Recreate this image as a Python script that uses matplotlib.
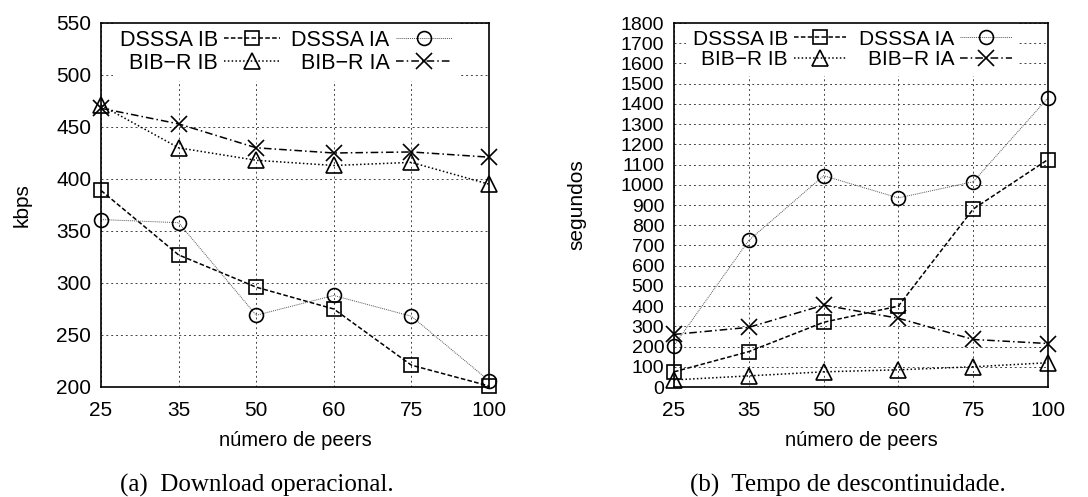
import matplotlib
matplotlib.use("Agg")
import matplotlib.pyplot as plt

peers = ["25", "35", "50", "60", "75", "100"]

# (a) Download operacional (kbps)
dl_dsssa_ib = [389, 327, 296, 275, 221, 201]
dl_dsssa_ia = [361, 358, 269, 288, 268, 206]
dl_bibr_ib = [471, 430, 418, 413, 416, 395]
dl_bibr_ia = [468, 453, 430, 425, 426, 421]

# (b) Tempo de descontinuidade (segundos)
td_dsssa_ib = [75, 175, 320, 400, 880, 1125]
td_dsssa_ia = [205, 725, 1045, 935, 1015, 1430]
td_bibr_ib = [35, 55, 75, 85, 100, 120]
td_bibr_ia = [260, 295, 405, 340, 235, 215]

labels = ["DSSSA IB", "DSSSA IA", "BIB\u2212R IB", "BIB\u2212R IA"]

plt.rcParams['font.family'] = ['Liberation Sans', 'DejaVu Sans']

W, H = 1088, 497
fig = plt.figure(figsize=(W / 100, H / 100), dpi=100)
ax1 = fig.add_axes([101 / W, 1 - 387 / H, 388 / W, 364 / H])
ax2 = fig.add_axes([674 / W, 1 - 387 / H, 374 / W, 364 / H])

styles = [
    dict(ls=(0, (3, 1.5)), marker='s', ms=10, lw=1.1, color='black'),
    dict(ls=(0, (1, 1)), marker='o', ms=10, lw=0.7, color='#555555'),
    dict(ls=(0, (1, 1.5)), marker='^', ms=12, lw=1.1, color='black'),
    dict(ls=(0, (5, 2, 1, 2)), marker='x', ms=12, lw=1.1, color='black'),
]


def draw(ax, series, ylim, yticks, ylabel, caption, cap_x, tick_fs,
         ylab_x, handlelength, leg_fs, colsp):
    x = list(range(len(peers)))
    handles = []
    for s, st, lab in zip(series, styles, labels):
        h, = ax.plot(x, s, linestyle=st['ls'], lw=st['lw'], color=st['color'],
                     marker=st['marker'], markersize=st['ms'],
                     markerfacecolor='none', markeredgecolor='black',
                     markeredgewidth=1.2, label=lab, clip_on=False, zorder=3)
        handles.append(h)
    ax.set_xlim(0, len(peers) - 1)
    ax.set_xticks(x)
    ax.set_xticklabels(peers, fontsize=15)
    ax.set_ylim(*ylim)
    ax.set_yticks(yticks)
    ax.set_yticklabels([str(v) for v in yticks], fontsize=tick_fs)
    ax.grid(True, color='#444444', ls=(0, (2, 3)), lw=0.7)
    ax.tick_params(axis='x', direction='in', length=0, pad=10)
    ax.tick_params(axis='y', direction='in', length=0, pad=7)
    for sp in ax.spines.values():
        sp.set_linewidth(1.2)
        sp.set_zorder(10)
    ax.set_xlabel("número de peers", fontsize=14.5)
    ax.xaxis.set_label_coords(0.5, -(440 - 387) / 364, transform=ax.transAxes)
    ax.xaxis.label.set_va('center')
    ax.set_ylabel(ylabel, fontsize=15)
    pos = ax.get_position()
    ax.yaxis.set_label_coords((ylab_x / W - pos.x0) / pos.width, 0.5)
    ax.yaxis.label.set_va('center')
    order = [0, 2, 1, 3]
    leg = ax.legend([handles[i] for i in order], [labels[i] for i in order],
                    ncol=2, markerfirst=False, frameon=True, fontsize=leg_fs,
                    loc='upper left', bbox_to_anchor=(12 / (pos.width * W), 1.0),
                    handlelength=handlelength, handletextpad=0.3,
                    columnspacing=colsp, labelspacing=0.08,
                    borderaxespad=0.0, borderpad=0.32, fancybox=False)
    leg.get_frame().set_facecolor('white')
    leg.get_frame().set_edgecolor('none')
    leg.get_frame().set_alpha(1)
    leg.set_zorder(5)
    fig.text(cap_x / W, 1 - 485 / H, caption, ha='center', va='center',
             fontsize=18, family='Liberation Serif')


draw(ax1, [dl_dsssa_ib, dl_dsssa_ia, dl_bibr_ib, dl_bibr_ia],
     (200, 550), list(range(200, 551, 50)), "kbps",
     "(a)  Download operacional.", 257, 15, 22, 2.6, 15.5, 0.5)
draw(ax2, [td_dsssa_ib, td_dsssa_ia, td_bibr_ib, td_bibr_ia],
     (0, 1800), list(range(0, 1801, 100)), "segundos",
     "(b)  Tempo de descontinuidade.", 848, 14, 577, 2.5, 15, 0.6)

fig.savefig("out.png", dpi=100)
